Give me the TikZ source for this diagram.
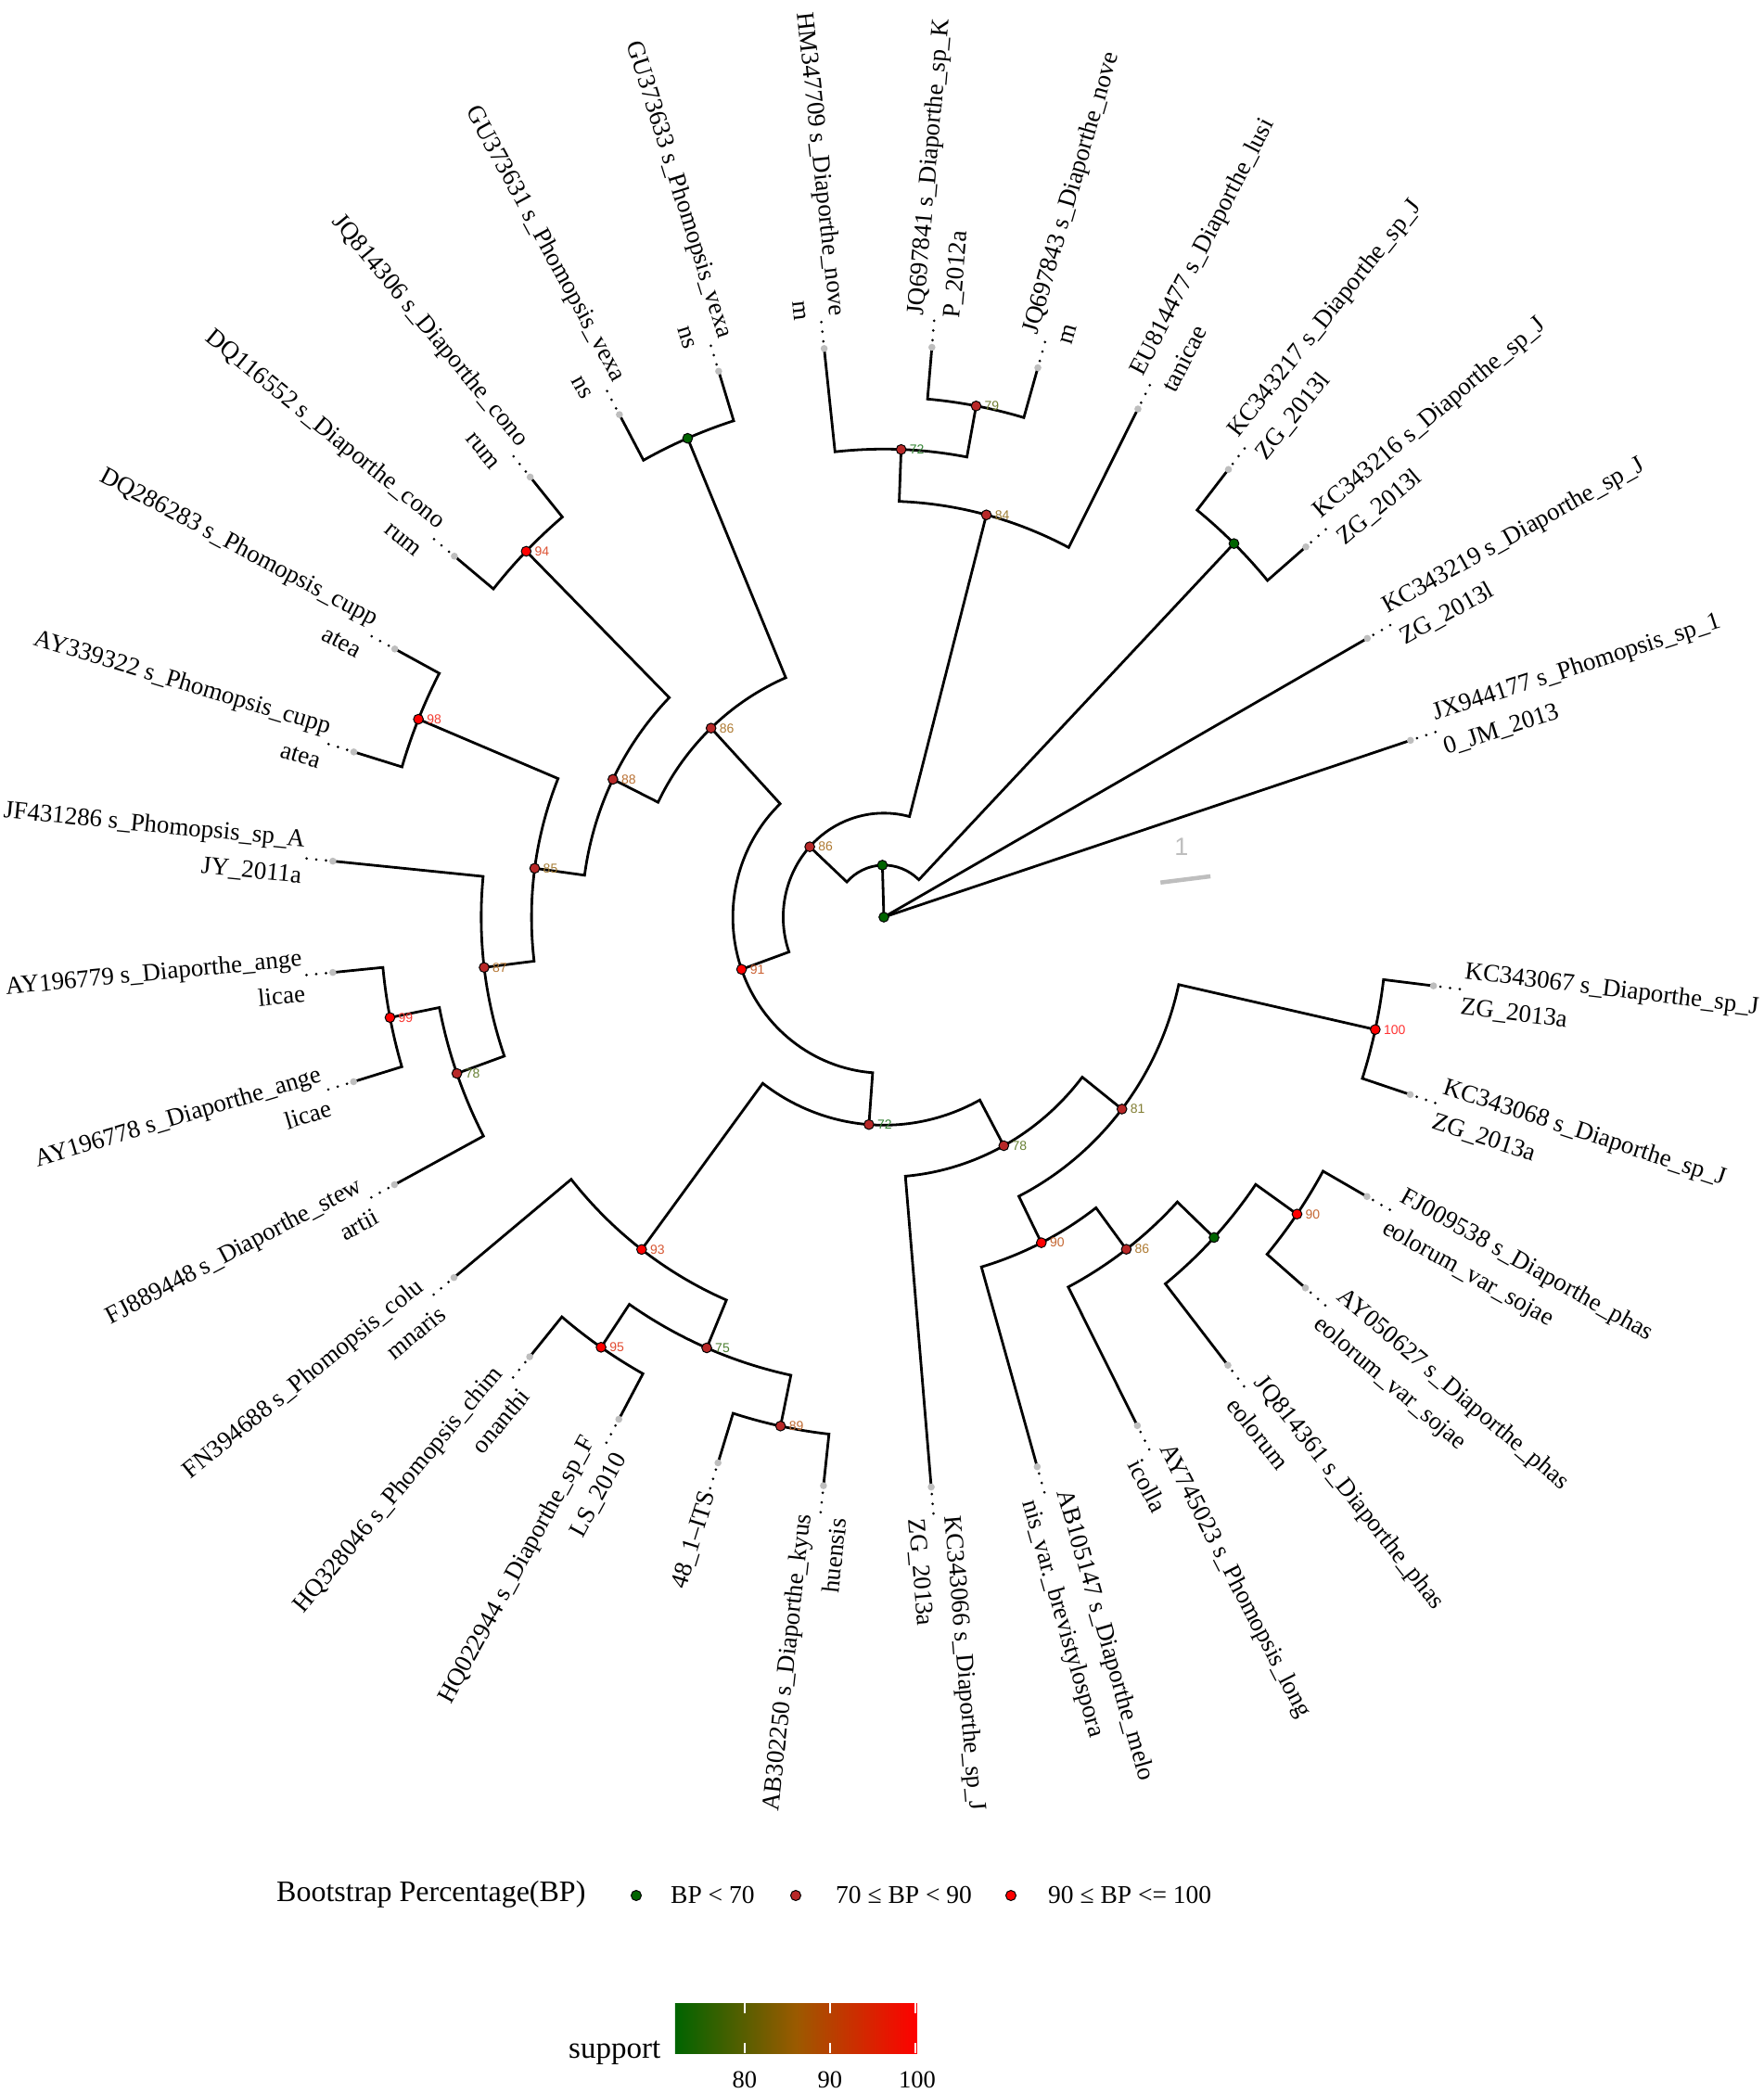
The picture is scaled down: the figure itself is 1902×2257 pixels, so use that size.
\documentclass[tikz,border=0pt]{standalone}
\usepackage{fontspec}
\setmainfont{Liberation Serif}
\setsansfont{Liberation Sans}
\definecolor{bclow}{HTML}{006400}
\definecolor{bcmid}{HTML}{9B5A00}
\definecolor{bchigh}{HTML}{FF0000}
\definecolor{tipgray}{HTML}{BEBEBE}
\definecolor{ndgreen}{HTML}{006400}
\definecolor{ndmid}{HTML}{B82828}
\definecolor{ndred}{HTML}{FF0000}
\newcommand\tnode[3]{%
  \pgfmathsetmacro\tmpA{18.0+11.17*(#2)}%
  \pgfmathsetmacro\tmpR{54.545*(#3)}%
  \expandafter\xdef\csname PA#1\endcsname{\tmpA}%
  \expandafter\xdef\csname PR#1\endcsname{\tmpR}%
  \coordinate (#1) at (\tmpA:\tmpR);}
\newcommand\edge[2]{%
  \edef\edA{\csname PA#1\endcsname}\edef\edB{\csname PA#2\endcsname}\edef\edR{\csname PR#1\endcsname}%
  \draw[branch] (#1) arc[start angle=\edA, end angle=\edB, radius=\edR] -- (#2);}
\newcommand\tip[3]{%
  \tnode{#1}{#2}{11}%
  \pgfmathsetmacro\tA{18.0+11.17*(#2)}%
  \draw[leader] (\tA:607.5) -- (\tA:630);
  \ifdim\tA pt>90pt\relax
    \ifdim\tA pt<270pt\relax
      \pgfmathsetmacro\tB{\tA-180}%
      \node[tiplab, anchor=east, align=right, rotate=\tB] (L#1) at (\tA:632) {#3};
    \else
      \node[tiplab, anchor=west, align=left, rotate=\tA] (L#1) at (\tA:632) {#3};
    \fi
  \else
    \node[tiplab, anchor=west, align=left, rotate=\tA] (L#1) at (\tA:632) {#3};
  \fi}
\begin{document}
\begin{tikzpicture}[x=1pt,y=1pt,
  branch/.style={line width=2.8pt, black},
  leader/.style={line width=3pt, black, dash pattern=on 0pt off 10.5pt, line cap=round},
  tiplab/.style={font=\fontsize{27}{39}\selectfont, inner sep=0pt},
  nlab/.style={font=\sffamily\fontsize{14}{14}\selectfont, inner sep=0pt, anchor=west},
  ndot/.style={draw=black, line width=1pt},
  legtext/.style={font=\fontsize{27.5}{27.5}\selectfont, inner sep=0pt, anchor=base west},
  scalebar/.style={line width=4.5pt, tipgray}]
\fill[white] (-953,-1268) rectangle (949,989);
\useasboundingbox (-953,-1268) rectangle (949,989);
\begin{scope}[xscale=0.995, yscale=1.028]
  \coordinate (root) at (0,0);
  \tnode{G1}{6.5948}{1}
  \tnode{g47}{2.5}{10}
  \tnode{n86a}{10.6895}{2}
  \tnode{n84}{5.125}{8}
  \tnode{n72}{6.25}{9}
  \tnode{n79}{5.5}{10}
  \tnode{n91}{16.254}{3}
  \tnode{n86b}{10.328}{5}
  \tnode{g112}{8.5}{10}
  \tnode{n88}{12.15625}{6}
  \tnode{n94}{10.5}{10}
  \tnode{n85}{13.8125}{7}
  \tnode{n98}{12.5}{10}
  \tnode{n87}{15.125}{8}
  \tnode{n78}{16.25}{9}
  \tnode{n99}{15.5}{10}
  \tnode{n72b}{22.1797}{4}
  \tnode{n93}{19.25}{8}
  \tnode{n75}{20.5}{9}
  \tnode{n95}{19.5}{10}
  \tnode{n89}{21.5}{10}
  \tnode{n78b}{25.109}{5}
  \tnode{n81}{27.21875}{6}
  \tnode{n90a}{24.9375}{7}
  \tnode{n86c}{25.875}{8}
  \tnode{g316}{26.75}{9}
  \tnode{n90b}{27.5}{10}
  \tnode{n100}{29.5}{10}
  % tips
  \tip{tJX}{0}{JX944177 s\_Phomopsis\_sp\_1\\0\_JM\_2013}
  \tip{tKa}{1}{KC343219 s\_Diaporthe\_sp\_J\\ZG\_2013l}
  \tip{tKb}{2}{KC343216 s\_Diaporthe\_sp\_J\\ZG\_2013l}
  \tip{tKc}{3}{KC343217 s\_Diaporthe\_sp\_J\\ZG\_2013l}
  \tip{tEU}{4}{EU814477 s\_Diaporthe\_lusi\\tanicae}
  \tip{tJQa}{5}{JQ697843 s\_Diaporthe\_nove\\m}
  \tip{tJQb}{6}{JQ697841 s\_Diaporthe\_sp\_K\\P\_2012a}
  \tip{tHM}{7}{HM347709 s\_Diaporthe\_nove\\m}
  \tip{tGUa}{8}{GU373633 s\_Phomopsis\_vexa\\ns}
  \tip{tGUb}{9}{GU373631 s\_Phomopsis\_vexa\\ns}
  \tip{tJQc}{10}{JQ814306 s\_Diaporthe\_cono\\rum}
  \tip{tDQa}{11}{DQ116552 s\_Diaporthe\_cono\\rum}
  \tip{tDQb}{12}{DQ286283 s\_Phomopsis\_cupp\\atea}
  \tip{tAYa}{13}{AY339322 s\_Phomopsis\_cupp\\atea}
  \tip{tJF}{14}{JF431286 s\_Phomopsis\_sp\_A\\JY\_2011a}
  \tip{tAYb}{15}{AY196779 s\_Diaporthe\_ange\\licae}
  \tip{tAYc}{16}{AY196778 s\_Diaporthe\_ange\\licae}
  \tip{tFJa}{17}{FJ889448 s\_Diaporthe\_stew\\artii}
  \tip{tFN}{18}{FN394688 s\_Phomopsis\_colu\\mnaris}
  \tip{tHQa}{19}{HQ328046 s\_Phomopsis\_chim\\onanthi}
  \tip{tHQb}{20}{HQ022944 s\_Diaporthe\_sp\_F\\LS\_2010}
  \tip{tITS}{21}{48\_1–ITS}
  \tip{tABa}{22}{AB302250 s\_Diaporthe\_kyus\\huensis}
  \tip{tKd}{23}{KC343066 s\_Diaporthe\_sp\_J\\ZG\_2013a}
  \tip{tABb}{24}{AB105147 s\_Diaporthe\_melo\\nis\_var.\_brevistylospora}
  \tip{tAYd}{25}{AY745023 s\_Phomopsis\_long\\icolla}
  \tip{tJQd}{26}{JQ814361 s\_Diaporthe\_phas\\eolorum}
  \tip{tAYe}{27}{AY050627 s\_Diaporthe\_phas\\eolorum\_var\_sojae}
  \tip{tFJb}{28}{FJ009538 s\_Diaporthe\_phas\\eolorum\_var\_sojae}
  \tip{tKe}{29}{KC343068 s\_Diaporthe\_sp\_J\\ZG\_2013a}
  \tip{tKf}{30}{KC343067 s\_Diaporthe\_sp\_J\\ZG\_2013a}
  % branches
  \draw[branch] (root) -- (tJX);
  \draw[branch] (root) -- (tKa);
  \draw[branch] (root) -- (G1);
  \edge{G1}{g47}\edge{G1}{n86a}
  \edge{g47}{tKb}\edge{g47}{tKc}
  \edge{n86a}{n84}\edge{n86a}{n91}
  \edge{n84}{tEU}\edge{n84}{n72}
  \edge{n72}{n79}\edge{n72}{tHM}
  \edge{n79}{tJQa}\edge{n79}{tJQb}
  \edge{n91}{n86b}\edge{n91}{n72b}
  \edge{n86b}{g112}\edge{n86b}{n88}
  \edge{g112}{tGUa}\edge{g112}{tGUb}
  \edge{n88}{n94}\edge{n88}{n85}
  \edge{n94}{tJQc}\edge{n94}{tDQa}
  \edge{n85}{n98}\edge{n85}{n87}
  \edge{n98}{tDQb}\edge{n98}{tAYa}
  \edge{n87}{tJF}\edge{n87}{n78}
  \edge{n78}{n99}\edge{n78}{tFJa}
  \edge{n99}{tAYb}\edge{n99}{tAYc}
  \edge{n72b}{n93}\edge{n72b}{n78b}
  \edge{n93}{tFN}\edge{n93}{n75}
  \edge{n75}{n95}\edge{n75}{n89}
  \edge{n95}{tHQa}\edge{n95}{tHQb}
  \edge{n89}{tITS}\edge{n89}{tABa}
  \edge{n78b}{tKd}\edge{n78b}{n81}
  \edge{n81}{n90a}\edge{n81}{n100}
  \edge{n90a}{tABb}\edge{n90a}{n86c}
  \edge{n86c}{tAYd}\edge{n86c}{g316}
  \edge{g316}{tJQd}\edge{g316}{n90b}
  \edge{n90b}{tAYe}\edge{n90b}{tFJb}
  \edge{n100}{tKe}\edge{n100}{tKf}
  % scale bar
  \coordinate (sbA) at (6.9:302);
  \coordinate (sbB) at (6.9:356.5);
  \draw[scalebar] (sbA) -- (sbB);
\end{scope}
\node[font=\sffamily\fontsize{27}{27}\selectfont, text=tipgray, inner sep=0pt] (sbl) at (321,76) {1};
% tip dots
\foreach \t in {tJX,tKa,tKb,tKc,tEU,tJQa,tJQb,tHM,tGUa,tGUb,tJQc,tDQa,tDQb,tAYa,tJF,tAYb,tAYc,tFJa,tFN,tHQa,tHQb,tITS,tABa,tKd,tABb,tAYd,tJQd,tAYe,tFJb,tKe,tKf}
  {\fill[tipgray] (\t) circle (3.8pt);}
% green nodes
\foreach \n in {root,G1,g47,g112,g316}
  {\filldraw[ndot, fill=ndgreen] (\n) circle (5.3pt);}
% supported nodes
\foreach \n/\v/\c in {n86a/86/ndmid,n84/84/ndmid,n72/72/ndmid,n79/79/ndmid,n91/91/ndred,n86b/86/ndmid,n88/88/ndmid,n94/94/ndred,n85/85/ndmid,n98/98/ndred,n87/87/ndmid,n78/78/ndmid,n99/99/ndred,n72b/72/ndmid,n93/93/ndred,n75/75/ndmid,n95/95/ndred,n89/89/ndmid,n78b/78/ndmid,n81/81/ndmid,n90a/90/ndred,n86c/86/ndmid,n90b/90/ndred,n100/100/ndred}
{
  \filldraw[ndot, fill=\c] (\n) circle (5.3pt);
  \pgfmathtruncatemacro\pp{\v<86 ? (\v-72)*100/14 : (\v-86)*100/14}
  \ifnum\v<86 \colorlet{lc}{bcmid!\pp!bclow!80!white}\else\colorlet{lc}{bchigh!\pp!bcmid!80!white}\fi
  \node[nlab, text=lc] (lab-\n) at ([xshift=9pt]\n) {\v};
}
% legend
\node[font=\fontsize{32}{32}\selectfont, inner sep=0pt, anchor=base west] (legtitle) at (-655,-1061) {Bootstrap Percentage(BP)};
\filldraw[ndot, fill=ndgreen] (-267,-1055) circle (5.5pt) coordinate (lg1);
\filldraw[ndot, fill=ndmid] (-95,-1055) circle (5.5pt) coordinate (lg2);
\filldraw[ndot, fill=ndred] (137,-1055) circle (5.5pt) coordinate (lg3);
\node[legtext] (lt1) at (-230,-1063) {BP < 70};
\node[legtext] (lt2) at (-52,-1063) {70 ≤ BP < 90};
\node[legtext] (lt3) at (177,-1063) {90 ≤ BP <= 100};
% colour bar
\shade[left color=bclow, right color=bchigh, middle color=bcmid] (-225,-1225) rectangle (36,-1171);
\foreach \x in {-150,-58,34} {
  \draw[white, line width=1.3pt] (\x,-1171) -- (\x,-1182);
  \draw[white, line width=1.3pt] (\x,-1214) -- (\x,-1225);
}
\node[font=\fontsize{33}{33}\selectfont, inner sep=0pt, anchor=base west] (suplab) at (-340,-1230) {support};
\node[font=\fontsize{26.5}{26.5}\selectfont, inner sep=0pt, anchor=base] (t80) at (-150,-1262) {80};
\node[font=\fontsize{26.5}{26.5}\selectfont, inner sep=0pt, anchor=base] (t90) at (-58,-1262) {90};
\node[font=\fontsize{26.5}{26.5}\selectfont, inner sep=0pt, anchor=base] (t100) at (36,-1262) {100};
\end{tikzpicture}
\end{document}
